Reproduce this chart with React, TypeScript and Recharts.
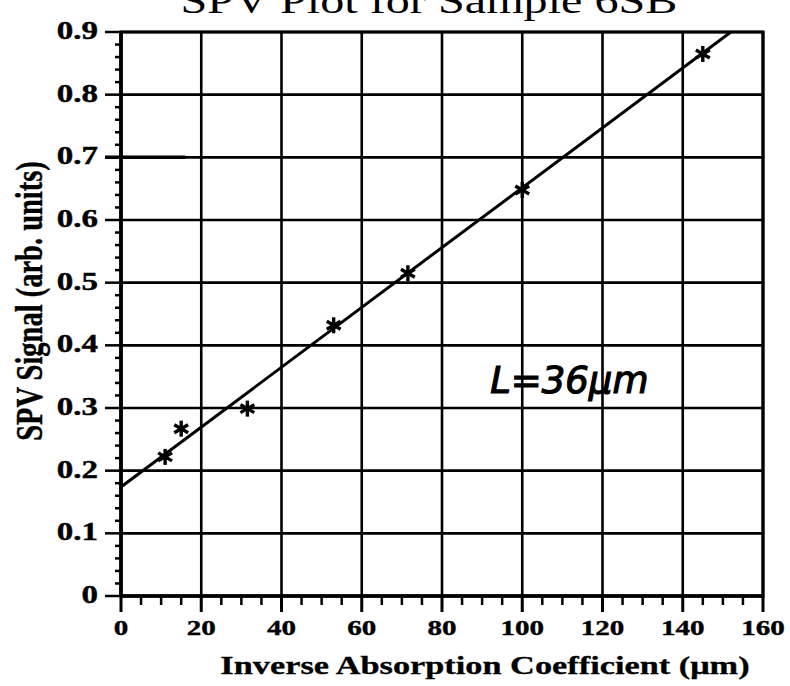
import {
  ScatterChart, Scatter, XAxis, YAxis, CartesianGrid,
  ReferenceArea, ReferenceLine, ReferenceDot,
} from "recharts";

// measured SPV points (inverse absorption coeff in µm, signal in arb. units)
const samples = [
  { x: 11, y: 0.222 },
  { x: 15, y: 0.267 },
  { x: 31.5, y: 0.299 },
  { x: 53, y: 0.432 },
  { x: 71.5, y: 0.515 },
  { x: 100, y: 0.648 },
  { x: 145, y: 0.865 },
];

// hand-drawn fit, from the y intercept up to where it leaves the top of the frame
const fitLine = [
  { x: 0, y: 0.174 },
  { x: 152, y: 0.9 },
];

const xMajor = [0, 20, 40, 60, 80, 100, 120, 140, 160];
const xTicks = [
  0, 5, 10, 15, 20, 25, 30, 35, 40, 45, 50, 55, 60, 65, 70, 75, 80,
  85, 90, 95, 100, 105, 110, 115, 120, 125, 130, 135, 140, 145, 150, 155, 160,
];
const yMajor = [0, 0.1, 0.2, 0.3, 0.4, 0.5, 0.6, 0.7, 0.8, 0.9];
const yTicks = [
  0, 0.02, 0.04, 0.06, 0.08, 0.1, 0.12, 0.14, 0.16, 0.18, 0.2, 0.22, 0.24, 0.26, 0.28,
  0.3, 0.32, 0.34, 0.36, 0.38, 0.4, 0.42, 0.44, 0.46, 0.48, 0.5, 0.52, 0.54, 0.56, 0.58,
  0.6, 0.62, 0.64, 0.66, 0.68, 0.7, 0.72, 0.74, 0.76, 0.78, 0.8, 0.82, 0.84, 0.86, 0.88, 0.9,
];
const note = { x: 92, y: 0.324, text: "L=36μm" };

const SERIF = '"Liberation Serif", "Times New Roman", serif';
const SX = 1.32; // the scan is stretched sideways

const isMajorY = (v: number) => yMajor.some((m) => Math.abs(m - v) < 1e-6);

const XTick = ({ x, y, payload }: any) => {
  const v = payload.value;
  const major = xMajor.includes(v);
  return (
    <g>
      <line x1={x} x2={x} y1={y} y2={y + (major ? 16 : 9)} stroke="#000" strokeWidth={major ? 3 : 2.5} />
      {major && (
        <text transform={`translate(${x},${y + 39}) scale(${SX},1)`} textAnchor="middle"
          fontFamily={SERIF} fontWeight="bold" fontSize={22} fill="#000" stroke="#000" strokeWidth={0.4}>
          {v}
        </text>
      )}
    </g>
  );
};

const YTick = ({ x, y, payload }: any) => {
  const v = payload.value;
  const major = isMajorY(v);
  return (
    <g>
      <line x1={x - (major ? 16 : 6)} x2={x} y1={y} y2={y} stroke="#000" strokeWidth={2.5} />
      {major && (
        <text transform={`translate(${x - 23},${y + 7}) scale(${SX},1)`} textAnchor="end"
          fontFamily={SERIF} fontWeight="bold" fontSize={25} fill="#000" stroke="#000" strokeWidth={0.4}>
          {v === 0 ? "0" : v.toFixed(1)}
        </text>
      )}
    </g>
  );
};

const Asterisk = ({ cx, cy }: any) => {
  const r = 8;
  return (
    <g>
      {[90, 30, 150].map((a) => {
        const dx = r * Math.cos((a * Math.PI) / 180);
        const dy = r * Math.sin((a * Math.PI) / 180);
        return <line key={a} x1={cx - dx} y1={cy - dy} x2={cx + dx} y2={cy + dy} stroke="#000" strokeWidth={3.4} />;
      })}
    </g>
  );
};

const XTitle = ({ viewBox }: any) => (
  <text transform={`translate(${viewBox.x + viewBox.width / 2 + 43},${viewBox.y + 78}) scale(${SX},1)`}
    textAnchor="middle" fontFamily={SERIF} fontWeight="bold" fontSize={26} fill="#000" stroke="#000" strokeWidth={0.3}>
    Inverse Absorption Coefficient (μm)
  </text>
);

const YTitle = ({ viewBox }: any) => (
  <text transform={`translate(42,${viewBox.y + viewBox.height / 2 - 13}) scale(${SX},1) rotate(-90)`}
    textAnchor="middle" fontFamily={SERIF} fontWeight="bold" fontSize={28.5} fill="#000" stroke="#000" strokeWidth={0.3}>
    SPV Signal (arb. units)
  </text>
);

export default function App() {
  return (
    <div style={{ position: "absolute", left: 0, top: 0, width: 790, height: 686, background: "#fff" }}>
      <ScatterChart width={790} height={686} margin={{ top: 32, right: 27, left: 0, bottom: 0 }}>
        <CartesianGrid horizontalValues={yMajor} verticalValues={xMajor} stroke="#000" strokeWidth={2.6} />
        <XAxis type="number" dataKey="x" domain={[0, 160]} ticks={xTicks} interval={0}
          allowDataOverflow tickSize={0} tickMargin={0} height={90}
          axisLine={{ stroke: "#000", strokeWidth: 3.5 }} tickLine={false}
          tick={<XTick />} label={XTitle} />
        <YAxis type="number" dataKey="y" domain={[0, 0.9]} ticks={yTicks} interval={0}
          allowDataOverflow tickSize={0} tickMargin={0} width={121}
          axisLine={{ stroke: "#000", strokeWidth: 3.5 }} tickLine={false}
          tick={<YTick />} label={YTitle} />
        <ReferenceArea x1={0} x2={160} y1={0} y2={0.9} fill="none" fillOpacity={0}
          stroke="#000" strokeWidth={3.2} />
        {/* darker smudge along the 0.7 line at the left edge of the scan */}
        <ReferenceLine segment={[{ x: -4, y: 0.7 }, { x: 16, y: 0.7 }]} ifOverflow="visible"
          stroke="#000" strokeWidth={3.5} />
        <Scatter data={fitLine} line={{ stroke: "#000", strokeWidth: 3 }} shape={() => <g />}
          isAnimationActive={false} legendType="none" />
        <Scatter data={samples} shape={<Asterisk />} isAnimationActive={false} legendType="none" />
        <ReferenceDot x={note.x} y={note.y} r={0} ifOverflow="visible"
          shape={(p: any) => (
            <text x={p.cx} y={p.cy} fontFamily='"DejaVu Sans", sans-serif' fontStyle="italic"
              fontSize={37} fill="#000" stroke="#000" strokeWidth={1.2}>
              {note.text}
            </text>
          )} />
      </ScatterChart>
      <svg width={790} height={686} style={{ position: "absolute", left: 0, top: 0, pointerEvents: "none" }}>
        <text transform={`translate(429,13) scale(${SX},1)`} textAnchor="middle" fontFamily={SERIF}
          fontSize={36.5} fill="#000">
          SPV Plot for Sample 6SB
        </text>
      </svg>
    </div>
  );
}
